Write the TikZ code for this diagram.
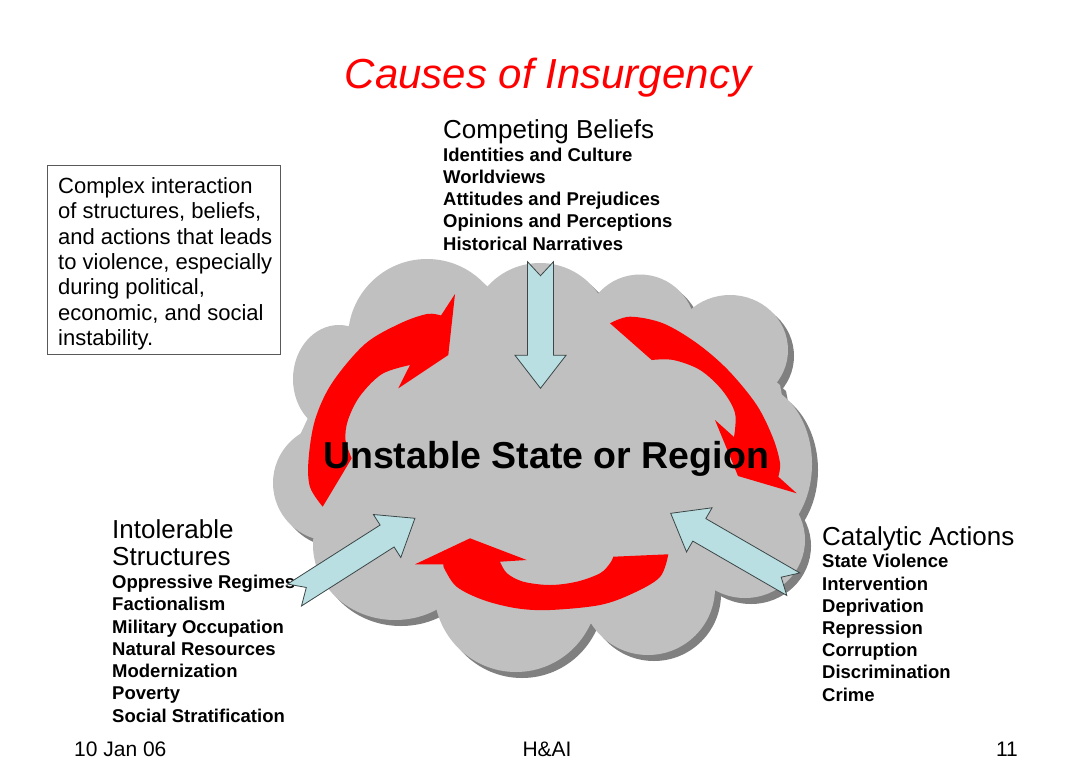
\documentclass[tikz,border=0pt]{standalone}
\usepackage{fontspec}
\setmainfont{Liberation Sans}
\definecolor{cloudgray}{RGB}{192,192,192}
\definecolor{cloudshadow}{RGB}{128,128,128}
\definecolor{arrowblue}{RGB}{185,223,227}
\definecolor{arrowred}{RGB}{255,0,0}
\definecolor{edgegray}{RGB}{60,70,70}
\newcommand\cloudparts[1]{%
 \fill[#1] (350,328) -- (488,288) -- (598,296) -- (690,309) -- (780,385) -- (802,500) -- (713,588) -- (590,624) -- (438,608) -- (312,533) -- (300,435) -- cycle;
 \fill[#1] (427,338) circle[radius=79];
 \fill[#1] (540,333.5) circle[radius=70.5];
 \fill[#1] (640,330) circle[radius=55.5];
 \fill[#1] (730,350) ellipse[x radius=58, y radius=55];
 \fill[#1] (752,464) ellipse[x radius=60, y radius=80];
 \fill[#1] (745,540) ellipse[x radius=60, y radius=58];
 \fill[#1] (648,588) circle[radius=67];
 \fill[#1] (516,589) ellipse[x radius=82, y radius=83];
 \fill[#1] (395,545) ellipse[x radius=82, y radius=75];
 \fill[#1] (331,483) circle[radius=58];
 \fill[#1] (339,379) ellipse[x radius=46, y radius=54];
}
\newcommand\bluearrow[3]{%
 \begin{scope}[shift={#1},rotate=#2]
 \filldraw[barrow] (0,-13) -- ({#3-33},-13) -- ({#3-33},-25.5) -- (#3,0) -- ({#3-33},25.5) -- ({#3-33},13) -- (0,13) -- (14,0) -- cycle;
 \end{scope}}
\tikzset{
 barrow/.style={fill=arrowblue, draw=edgegray, line width=0.8pt, line join=miter},
 listitem/.style={anchor=base west, inner sep=0pt, font=\fontsize{18.5}{22}\selectfont\bfseries},
 headtext/.style={anchor=base west, inner sep=0pt, font=\fontsize{26}{30}\selectfont},
 boxtext/.style={anchor=base west, inner sep=0pt, font=\fontsize{22}{25}\selectfont},
 foottext/.style={inner sep=0pt, font=\fontsize{21}{24}\selectfont}
}
\begin{document}
\begin{tikzpicture}[x=1pt,y=-1pt]
\useasboundingbox (0,0) rectangle (1075,776);
\fill[white] (0,0) rectangle (1075,776);
% cloud with shadow
\begin{scope}[shift={(6,6)}]
\cloudparts{cloudshadow}
\end{scope}
\cloudparts{cloudgray}
% red curved arrows
\fill[arrowred] (322.7,506.7) -- plot[smooth,tension=0.55] coordinates {(322.7,506.7) (310,487) (308.5,460) (315,420) (332,383) (365,344) (400,323.5) (427,314) (441,315.5)} -- (455,294) -- (448.3,355) -- (398.3,388.3) -- (410,365) -- plot[smooth,tension=0.55] coordinates {(410,365) (382,374) (360,396) (348,420) (345.5,440) (351.7,458.3)} -- cycle;
\fill[arrowred] (610,323.3) -- plot[smooth,tension=0.55] coordinates {(610,323.3) (630,316.7) (663,323.3) (697,343.3) (728,370) (756.7,405) (773,438) (780,463) (778.3,476.7)} -- (796.7,493.3) -- (738,476) -- (715,420) -- (734,437) -- plot[smooth,tension=0.55] coordinates {(734,437) (735,413) (722,390) (700,370) (673.3,360) (651.7,360)} -- cycle;
\fill[arrowred] (668.3,554.3) -- plot[smooth,tension=0.55] coordinates {(668.3,554.3) (660,577) (633,593.3) (600,605) (550,610) (516.7,608.3) (483.3,600) (457,587) (445,570) (443.3,564.3)} -- (415,564.3) -- (470,538.3) -- (526.7,560) -- (500,561.7) -- plot[smooth,tension=0.55] coordinates {(500,561.7) (507,573.3) (523.3,581.7) (550,585) (576.7,581.7) (600,573.3) (610,563.3) (613.3,556.7)} -- cycle;
% title
\node[anchor=base, inner sep=0pt, text=arrowred, font=\fontsize{42}{48}\selectfont\itshape] (title) at (548,88) {Causes of Insurgency};
% centre text
\node[anchor=base, inner sep=0pt, font=\fontsize{37.5}{44}\selectfont\bfseries] (centre) at (546,468.5) {Unstable State or Region};
% competing beliefs
\node[headtext] (cb) at (443,138.3) {Competing Beliefs};
\node[listitem] (cb1) at (443,161.6) {Identities and Culture};
\node[listitem] (cb2) at (443,183.6) {Worldviews};
\node[listitem] (cb3) at (443,205.6) {Attitudes and Prejudices};
\node[listitem] (cb4) at (443,227.6) {Opinions and Perceptions};
\node[listitem] (cb5) at (443,250.6) {Historical Narratives};
% intolerable structures
\node[headtext] (is) at (112,538.3) {Intolerable};
\node[headtext] (is0) at (112,565.3) {Structures};
\node[listitem] (is1) at (112,588.6) {Oppressive Regimes};
\node[listitem] (is2) at (112,610.6) {Factionalism};
\node[listitem] (is3) at (112,633.6) {Military Occupation};
\node[listitem] (is4) at (112,655.6) {Natural Resources};
\node[listitem] (is5) at (112,677.6) {Modernization};
\node[listitem] (is6) at (112,699.6) {Poverty};
\node[listitem] (is7) at (112,722.6) {Social Stratification};
% catalytic actions
\node[headtext] (ca) at (822,545.3) {Catalytic Actions};
\node[listitem] (ca1) at (822,567.6) {State Violence};
\node[listitem] (ca2) at (822,590.6) {Intervention};
\node[listitem] (ca3) at (822,612.6) {Deprivation};
\node[listitem] (ca4) at (822,634.6) {Repression};
\node[listitem] (ca5) at (822,656.6) {Corruption};
\node[listitem] (ca6) at (822,678.6) {Discrimination};
\node[listitem] (ca7) at (822,701.6) {Crime};
% box
\draw[draw=black!65, line width=0.9pt] (47.3,165) rectangle (280.7,354);
\node[boxtext] (b1) at (58,193.5) {Complex interaction};
\node[boxtext] (b2) at (58,218.8) {of structures, beliefs,};
\node[boxtext] (b3) at (58,244.1) {and actions that leads};
\node[boxtext] (b4) at (58,269.4) {to violence, especially};
\node[boxtext] (b5) at (58,294.7) {during political,};
\node[boxtext] (b6) at (58,320.0) {economic, and social};
\node[boxtext] (b7) at (58,345.3) {instability.};
% blue arrows
\bluearrow{(540.5,261.7)}{-90}{126.6}
\bluearrow{(294.5,595)}{32.5}{142.8}
\bluearrow{(793.3,584.2)}{149.96}{141.6}
% footer
\node[foottext, anchor=base west] (f1) at (74,756.5) {10 Jan 06};
\node[foottext, anchor=base] (f2) at (547,756.5) {H\&AI};
\node[foottext, anchor=base east] (f3) at (1018,756.5) {11};
\end{tikzpicture}
\end{document}
